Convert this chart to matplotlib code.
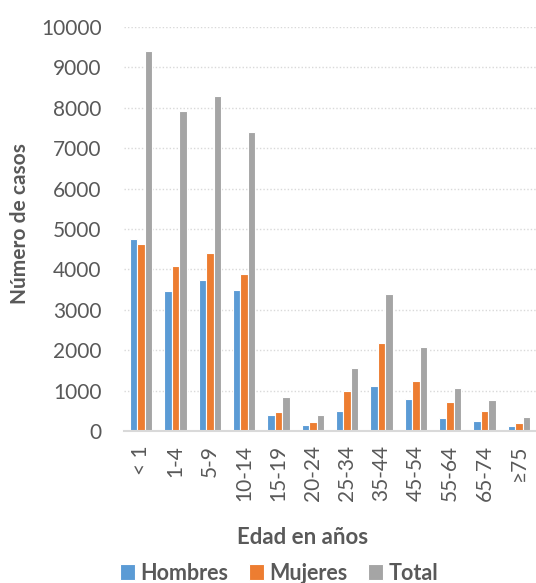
import matplotlib
matplotlib.use("Agg")
import matplotlib.pyplot as plt
import numpy as np

categories = ["< 1", "1-4", "5-9", "10-14", "15-19", "20-24", "25-34",
              "35-44", "45-54", "55-64", "65-74", "≥75"]
hombres = [4750, 3470, 3750, 3485, 390, 145, 490, 1125, 795, 315, 255, 125]
mujeres = [4630, 4095, 4400, 3880, 470, 235, 1000, 2180, 1230, 710, 490, 210]
total = [9400, 7925, 8295, 7405, 840, 405, 1555, 3380, 2075, 1060, 775, 340]
series_names = ["Hombres", "Mujeres", "Total"]
colors = ["#5B9BD5", "#ED7D31", "#A5A5A5"]
yticks = list(range(0, 10001, 1000))

plt.rcParams['font.family'] = ['Lato', 'DejaVu Sans']
txt = "#595959"

fig = plt.figure(figsize=(5.36, 5.83), dpi=100)
ax = fig.add_axes([124/536, (583-431)/583, 412/536, 404/583])

x = np.arange(len(categories))
w = 0.215
for i, (vals, name, c) in enumerate(zip([hombres, mujeres, total], series_names, colors)):
    ax.bar(x + (i - 1) * w, vals, width=w, color=c, edgecolor="white",
           linewidth=0.8, label=name, zorder=3)

ax.set_xlim(-0.5, 11.5)
ax.set_ylim(0, 10000)
ax.set_yticks(yticks)
ax.set_yticklabels([str(v) for v in yticks], fontsize=15, color=txt)
ax.set_xticks(x)
ax.set_xticklabels(categories, rotation=90, fontsize=15, color=txt)
ax.tick_params(axis='both', length=0)
ax.tick_params(axis='y', pad=16)
ax.tick_params(axis='x', pad=10)

ax.grid(axis='y', color="#D9D9D9", linestyle=(0, (1, 1.5)), linewidth=1.0, zorder=0)
for s in ['top', 'right', 'left']:
    ax.spines[s].set_visible(False)
ax.spines['bottom'].set_color("#D9D9D9")
ax.spines['bottom'].set_linewidth(1.5)
ax.spines['bottom'].set_zorder(4)

fig.text(20/536, 1 - 224/583, "Número de casos", rotation=90, fontsize=15,
         fontweight='bold', color=txt, ha='center', va='center')
fig.text(303/536, 1 - 537/583, "Edad en años", fontsize=16,
         fontweight='bold', color=txt, ha='center', va='center')

leg = fig.legend(loc='center', bbox_to_anchor=(279/536, 1 - 573/583), ncol=3,
                 frameon=False, fontsize=15.5, handlelength=0.7, handleheight=0.7,
                 handletextpad=0.25, columnspacing=0.95, borderpad=0.1)
for t in leg.get_texts():
    t.set_color(txt)
    t.set_fontweight('bold')

fig.savefig("out.png", dpi=100)
